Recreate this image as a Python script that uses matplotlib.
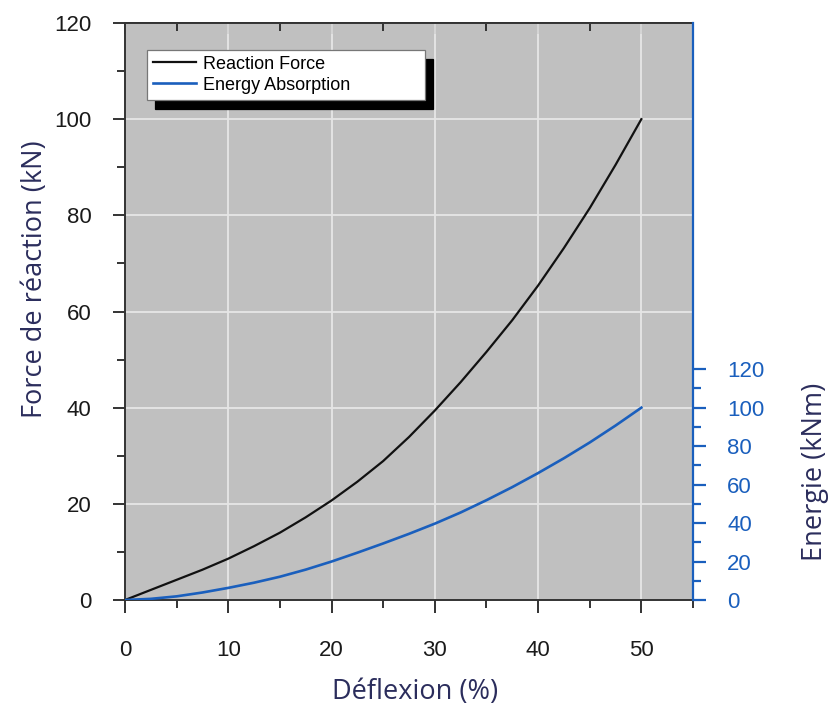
import matplotlib
matplotlib.use('Agg')
import matplotlib.pyplot as plt
from matplotlib.ticker import MultipleLocator, FixedLocator

# ---- data ----
deflection = [0, 2.5, 5, 7.5, 10, 12.5, 15, 17.5, 20, 22.5, 25, 27.5, 30,
              32.5, 35, 37.5, 40, 42.5, 45, 47.5, 50]
reaction_force = [0, 2.1, 4.2, 6.3, 8.6, 11.2, 14.0, 17.2, 20.7, 24.6, 28.9, 33.9, 39.4,
                  45.3, 51.6, 58.2, 65.4, 73.2, 81.5, 90.5, 100]
energy = [0, 0.6, 1.9, 3.9, 6.3, 9.0, 12.1, 15.8, 20.0, 24.6, 29.4, 34.4, 39.7,
          45.5, 51.9, 58.7, 66.0, 73.7, 81.9, 90.7, 100]
x_ticks = [0, 10, 20, 30, 40, 50]
force_ticks = [0, 20, 40, 60, 80, 100, 120]
energy_ticks = [0, 20, 40, 60, 80, 100, 120]
energy_minor = [10, 30, 50, 70, 90, 110]
series_labels = ['Reaction Force', 'Energy Absorption']

BLUE = '#1a5fbd'
NAVY = '#2b2d5c'
TICKFONT = 'Liberation Sans'
LABELFONT = 'Open Sans'

W, H = 830, 711
fig = plt.figure(figsize=(W / 100, H / 100), dpi=100)
ax = fig.add_axes([125 / W, 111 / H, 568 / W, 577 / H])
ax.set_facecolor('#c0c0c0')
ax.set_xlim(0, 55)
ax.set_ylim(0, 120)
ax.set_xticks(x_ticks)
ax.xaxis.set_minor_locator(MultipleLocator(5))
ax.set_yticks(force_ticks)
ax.yaxis.set_minor_locator(MultipleLocator(10))
ax.grid(True, which='major', color='#e6e6e6', lw=1.3)
ax.set_axisbelow(True)
for s in ['left', 'bottom', 'top']:
    ax.spines[s].set_color('#333333')
    ax.spines[s].set_linewidth(1.4)
ax.spines['right'].set_visible(False)
ax.tick_params(axis='both', which='major', direction='out', length=9, width=1.4,
               color='#333333', labelsize=16, labelcolor='#1a1a1a')
ax.tick_params(axis='both', which='minor', direction='out', length=5.5, width=1.4,
               color='#333333')
ax.tick_params(axis='y', which='major', pad=15)
ax.tick_params(axis='x', which='major', pad=20)
for lab in ax.get_xticklabels() + ax.get_yticklabels():
    lab.set_fontfamily(TICKFONT)

# top ticks pointing inward
sec = ax.secondary_xaxis('top')
sec.set_xticks(x_ticks)
sec.xaxis.set_minor_locator(MultipleLocator(5))
sec.tick_params(which='major', direction='in', length=8, width=1.4, color='#333333',
                labeltop=False)
sec.tick_params(which='minor', direction='in', length=5.5, width=1.4, color='#333333')
sec.spines['top'].set_color('#333333')
sec.spines['top'].set_linewidth(1.4)

l1, = ax.plot(deflection, reaction_force, color='#111111', lw=1.6,
              solid_joinstyle='round')

ax2 = ax.twinx()
ax2.set_ylim(0, 300)
ax2.yaxis.set_major_locator(FixedLocator(energy_ticks))
ax2.yaxis.set_minor_locator(FixedLocator(energy_minor))
for s in ['left', 'bottom', 'top']:
    ax2.spines[s].set_visible(False)
ax2.spines['right'].set_color(BLUE)
ax2.spines['right'].set_linewidth(1.6)
ax2.tick_params(axis='y', which='major', direction='out', length=9.5, width=1.6,
                color=BLUE, labelsize=16, labelcolor=BLUE, pad=15)
ax2.tick_params(axis='y', which='minor', direction='out', length=5.7, width=1.6,
                color=BLUE)
for lab in ax2.get_yticklabels():
    lab.set_fontfamily(TICKFONT)

l2, = ax2.plot(deflection, energy, color=BLUE, lw=1.9, solid_joinstyle='round')

leg = ax2.legend([l1, l2], series_labels, loc='upper left',
                 bbox_to_anchor=(22 / 568, 0.9, 278 / 568, 550 / 577 - 0.9),
                 mode='expand', borderaxespad=0, fancybox=False, framealpha=1,
                 edgecolor='#777777', handlelength=2.4, handletextpad=0.4,
                 labelspacing=0.22, borderpad=0.32,
                 prop={'family': TICKFONT, 'size': 13},
                 shadow={'ox': 6, 'oy': -6.5, 'facecolor': 'black',
                         'edgecolor': 'black', 'alpha': 1})
leg.get_frame().set_linewidth(0.9)

fig.text(35 / W, 1 - 279 / H, 'Force de réaction (kN)', rotation=90,
         ha='center', va='center', fontsize=19.5, family=LABELFONT, color=NAVY)
fig.text(815 / W, 1 - 472 / H, 'Energie (kNm)', rotation=90,
         ha='center', va='center', fontsize=19.5, family=LABELFONT, color=NAVY)
fig.text(415 / W, 1 - 692 / H, 'Déflexion (%)',
         ha='center', va='center', fontsize=19.5, family=LABELFONT, color=NAVY)

fig.savefig('out.png', dpi=100)
